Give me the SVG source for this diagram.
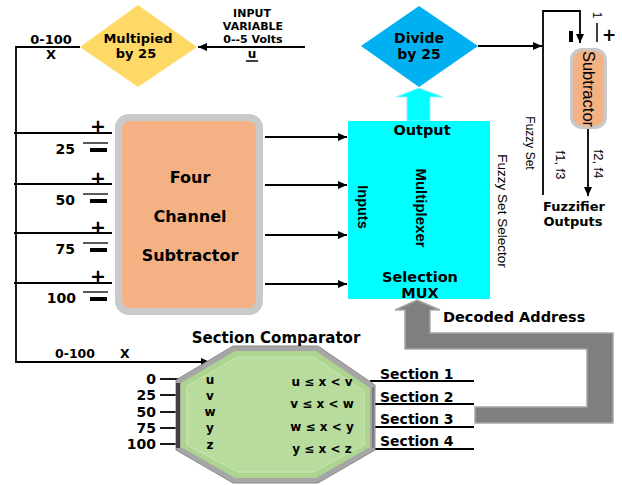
<svg xmlns="http://www.w3.org/2000/svg" width="622" height="485" viewBox="0 0 622 485">
<style>
.b{font-family:"DejaVu Sans",sans-serif;font-weight:bold;fill:#000}
.r{font-family:"Liberation Sans",sans-serif;fill:#000}
.m{text-anchor:middle}
.e{text-anchor:end}
.ln{stroke:#000;stroke-width:1.8;fill:none}
</style>
<defs>
<marker id="ah" markerUnits="userSpaceOnUse" markerWidth="9" markerHeight="8" refX="9" refY="4" orient="auto">
<path d="M0,0 L9,4 L0,8 z" fill="#000"/>
</marker>
</defs>
<rect width="622" height="485" fill="#fff"/>

<g id="connectors">
<polyline class="ln" points="80,47 16,47 16,362 210,362" marker-end="url(#ah)"/>
<line class="ln" x1="305" y1="47" x2="198" y2="47" marker-end="url(#ah)"/>
<line class="ln" x1="14" y1="133" x2="112" y2="133"/>
<line class="ln" x1="14" y1="184" x2="112" y2="184"/>
<line class="ln" x1="14" y1="233" x2="112" y2="233"/>
<line class="ln" x1="14" y1="283" x2="112" y2="283"/>
<line class="ln" x1="265" y1="137" x2="347" y2="137" marker-end="url(#ah)"/>
<line class="ln" x1="265" y1="185" x2="347" y2="185" marker-end="url(#ah)"/>
<line class="ln" x1="265" y1="235" x2="347" y2="235" marker-end="url(#ah)"/>
<line class="ln" x1="265" y1="284" x2="347" y2="284" marker-end="url(#ah)"/>
<line class="ln" x1="478" y1="46" x2="542" y2="46" marker-end="url(#ah)"/>
<polyline class="ln" points="543,195 543,11 580,11 580,43" marker-end="url(#ah)"/>
<line class="ln" x1="588" y1="129" x2="588" y2="196" marker-end="url(#ah)"/>
<polygon points="419,88 443,97 430,97 430,121 407,121 407,97 396,97" fill="#00FFFF" stroke="#9EF" stroke-width="1"/>
<polygon points="417,300 440,310 430,310 430,333 613,333 613,423 475,423 475,407 587,407 587,349 405,349 405,310 395,310" fill="#7F7F7F" stroke="#A6A6A6" stroke-width="1.5"/>
<g stroke="#000" stroke-width="1.8">
<line x1="160" y1="379" x2="187" y2="379"/>
<line x1="160" y1="395" x2="185" y2="395"/>
<line x1="160" y1="412" x2="185" y2="412"/>
<line x1="160" y1="428" x2="185" y2="428"/>
<line x1="160" y1="444" x2="185" y2="444"/>
<line x1="370" y1="381" x2="474" y2="381"/>
<line x1="372" y1="404" x2="474" y2="404"/>
<line x1="372" y1="427" x2="474" y2="427"/>
<line x1="370" y1="449" x2="474" y2="449"/>
</g>
</g>

<g id="multiply">
<polygon points="80,47 138,5 197,47 138,87" fill="#FFD966"/>
<text class="b m" x="138" y="43" font-size="13">Multipied</text>
<text class="b m" x="136" y="58" font-size="13">by 25</text>
</g>

<g id="input-label">
<text class="b m" x="252" y="17" font-size="11">INPUT</text>
<text class="b m" x="253" y="30" font-size="11">VARIABLE</text>
<text class="b m" x="253" y="43" font-size="11">0--5 Volts</text>
<text class="b m" x="252" y="58" font-size="12">u</text>
<line x1="246" y1="61" x2="258" y2="61" stroke="#000" stroke-width="1.5"/>
<text class="b m" x="51" y="44" font-size="13">0-100</text>
<text class="b m" x="51" y="59" font-size="13">X</text>
</g>

<g id="references">
<text class="b e" x="75" y="154" font-size="14">25</text>
<text class="b e" x="75" y="205" font-size="14">50</text>
<text class="b e" x="75" y="254" font-size="14">75</text>
<text class="b e" x="76" y="303" font-size="14">100</text>
<g class="b m" font-size="19">
<text x="98" y="133">+</text>
<text x="98" y="185">+</text>
<text x="98" y="234">+</text>
<text x="98" y="283">+</text>
</g>
<g stroke="#000">
<line x1="83" y1="143" x2="108" y2="143" stroke-width="1.3"/>
<line x1="90" y1="150" x2="107" y2="150" stroke-width="4"/>
<line x1="83" y1="194" x2="108" y2="194" stroke-width="1.3"/>
<line x1="90" y1="201" x2="107" y2="201" stroke-width="4"/>
<line x1="83" y1="243" x2="108" y2="243" stroke-width="1.3"/>
<line x1="90" y1="250" x2="107" y2="250" stroke-width="4"/>
<line x1="83" y1="292" x2="108" y2="292" stroke-width="1.3"/>
<line x1="90" y1="299" x2="107" y2="299" stroke-width="4"/>
</g>
</g>

<g id="four-channel-subtractor">
<rect x="115" y="114" width="148" height="201" rx="14" fill="#C9C9C9"/>
<rect x="122" y="121" width="134" height="187" rx="8" fill="#F4B183"/>
<text class="b m" x="190" y="183" font-size="16">Four</text>
<text class="b m" x="190" y="222" font-size="16">Channel</text>
<text class="b m" x="190" y="261" font-size="16">Subtractor</text>
</g>

<g id="mux">
<rect x="348" y="121" width="142" height="178" fill="#00FFFF"/>
<text class="b m" x="422" y="135" font-size="14.5">Output</text>
<text class="b m" x="420" y="282" font-size="14.5">Selection</text>
<text class="b m" x="420" y="298" font-size="14.5">MUX</text>
<text class="r m" font-size="15" font-weight="bold" dominant-baseline="central" transform="translate(421,208) rotate(90)">Multiplexer</text>
<text class="r m" font-size="14.5" font-weight="bold" dominant-baseline="central" transform="translate(363,207) rotate(90)">Inputs</text>
<text class="r m" font-size="13.5" dominant-baseline="central" transform="translate(502,211) rotate(90)">Fuzzy Set Selector</text>
</g>

<g id="divide">
<polygon points="361,46 419,6 478,46 419,87" fill="#00B0F0"/>
<text class="b m" x="419" y="43" font-size="14">Divide</text>
<text class="b m" x="419" y="59" font-size="14">by 25</text>
</g>

<g id="subtractor">
<rect x="570" y="48" width="37" height="81" rx="12" fill="#C9C9C9"/>
<rect x="573" y="51" width="31" height="75" rx="10" fill="#F4B183"/>
<text class="r m" font-size="16.5" dominant-baseline="central" transform="translate(589,89) rotate(90)">Subtractor</text>
<rect x="569" y="31" width="4" height="11" fill="#000"/>
<text class="r m" font-size="12" dominant-baseline="central" transform="translate(597,15) rotate(90)">1</text>
<line x1="597" y1="23" x2="597" y2="42" stroke="#000" stroke-width="1.5"/>
<text class="b m" x="609" y="41" font-size="17">+</text>
</g>

<g id="fuzzy-labels">
<text class="r m" font-size="12" dominant-baseline="central" transform="translate(530,143) rotate(90)">Fuzzy Set</text>
<text class="r m" font-size="13" dominant-baseline="central" transform="translate(560,165) rotate(90)">f1, f3</text>
<text class="r m" font-size="13" dominant-baseline="central" transform="translate(598,164) rotate(90)">f2, f4</text>
<text class="b m" x="574" y="211" font-size="13">Fuzzifier</text>
<text class="b m" x="573" y="226" font-size="13">Outputs</text>
</g>

<g id="section-comparator">
<polygon points="233,346 318,346 375,385 375,450 318,483 233,483 176,450 176,380" fill="#A6A6A6" stroke="#8C8C8C" stroke-width="1"/>
<line x1="178" y1="383" x2="178" y2="448" stroke="#404040" stroke-width="4"/>
<line x1="373" y1="387" x2="373" y2="448" stroke="#7A7A7A" stroke-width="2"/>
<polygon points="235,351 316,351 370,388 370,447 316,478 235,478 181,447 181,383" fill="#ADD58F"/>
<polygon points="238,357 313,357 364,391 364,445 313,472 238,472 187,445 187,386" fill="#B7DC9E" stroke="#CBE6B8" stroke-width="1"/>
<text class="b m" x="276" y="343" font-size="15">Section Comparator</text>
<g class="b m" font-size="12">
<text x="210" y="384">u</text>
<text x="210" y="400">v</text>
<text x="210" y="416">w</text>
<text x="210" y="432">y</text>
<text x="210" y="449">z</text>
<text x="322" y="386">u ≤ x &lt; v</text>
<text x="322" y="408">v ≤ x &lt; w</text>
<text x="322" y="431">w ≤ x &lt; y</text>
<text x="322" y="453">y ≤ x &lt; z</text>
</g>
<g class="b e" font-size="14">
<text x="156" y="384">0</text>
<text x="156" y="400">25</text>
<text x="156" y="417">50</text>
<text x="156" y="433">75</text>
<text x="156" y="449">100</text>
</g>
<text class="b" x="55" y="358" font-size="12.5">0-100</text>
<text class="b" x="120" y="358" font-size="12.5">X</text>
</g>

<g id="sections">
<text class="b" x="380" y="379" font-size="14">Section 1</text>
<text class="b" x="380" y="402" font-size="14">Section 2</text>
<text class="b" x="380" y="424" font-size="14">Section 3</text>
<text class="b" x="380" y="446" font-size="14">Section 4</text>
<text class="b" x="443" y="322" font-size="14.5">Decoded Address</text>
</g>
</svg>
